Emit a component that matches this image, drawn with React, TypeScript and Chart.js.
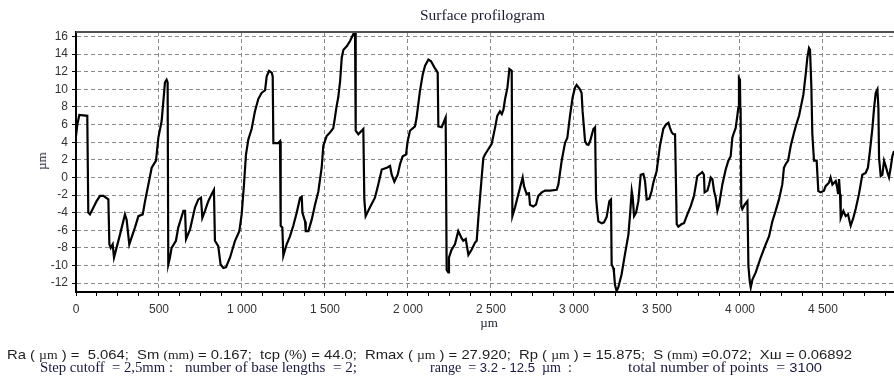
import React, { useEffect, useLayoutEffect, useRef } from 'react';
import { Chart, registerables } from 'chart.js';

Chart.register(...registerables);

// Profile points [position µm, height µm], one array per wave group
const profileA: [number, number][] = [
  [0, 4.7], [8, 6.0], [20, 7.1], [68, 7.0], [74, -4.0], [84, -4.2], [124, -2.7], [145, -2.1], [165, -2.1],
  [195, -2.5], [201, -7.6], [209, -8.0], [221, -7.6], [229, -9.1], [265, -6.5], [295, -4.2], [305, -4.8],
  [321, -7.6], [355, -5.7], [376, -4.4], [402, -4.2], [416, -2.7], [436, -0.8], [456, 1.1], [482, 1.9],
  [496, 4.5], [516, 6.4], [536, 10.8], [546, 11.1], [552, 10.8], [556, -9.9], [566, -9.1], [576, -8.0],
  [602, -7.2], [616, -5.7], [647, -3.8], [657, -3.8], [663, -7.0], [687, -5.9], [717, -3.4], [737, -2.5],
  [753, -2.3], [761, -4.6], [777, -3.8], [797, -2.7], [817, -1.9], [831, -1.4], [837, -7.2], [857, -7.8],
  [871, -9.9], [888, -10.3], [904, -10.2], [928, -9.1], [958, -7.2], [984, -6.1], [998, -4.2], [1012, -0.8],
  [1024, 2.6], [1038, 4.3], [1058, 5.5], [1078, 7.5], [1098, 8.9], [1118, 9.6], [1139, 9.9], [1149, 11.5],
  [1163, 12.1], [1179, 11.9], [1185, 11.5], [1189, 3.9], [1219, 3.9], [1229, 4.1],
];

const profileB: [number, number][] = [
  [1233, -5.5], [1243, -5.7], [1249, -8.9], [1269, -7.6], [1289, -6.7], [1309, -5.5], [1330, -4.0],
  [1350, -2.3], [1360, -2.2], [1364, -4.0], [1380, -5.0], [1384, -6.1], [1400, -6.1], [1420, -4.8],
  [1440, -3.1], [1460, -1.6], [1480, 1.1], [1490, 3.6], [1510, 4.7], [1530, 5.1], [1550, 5.6], [1560, 6.8],
  [1570, 8.1], [1580, 9.1], [1591, 10.9], [1601, 13.6], [1611, 14.5], [1631, 14.9], [1651, 15.5],
  [1671, 16.3], [1681, 16.6], [1685, 5.3], [1701, 4.9], [1731, 5.5], [1737, -2.5], [1745, -4.4],
  [1771, -3.4], [1801, -2.3], [1821, -0.8], [1842, 0.9], [1872, 1.1], [1892, 1.3], [1902, 0.3],
  [1918, -0.5], [1938, 0.3], [1952, 1.5], [1968, 2.4], [1988, 2.6], [1998, 4.1], [2012, 5.3], [2042, 5.8],
  [2052, 6.8], [2072, 9.8], [2089, 11.7], [2103, 12.7], [2123, 13.4], [2139, 13.2], [2159, 12.5],
  [2179, 11.9], [2183, 5.8], [2203, 5.7], [2227, 6.8], [2233, -10.5], [2243, -10.8], [2247, -9.1],
  [2263, -8.2], [2283, -7.6], [2303, -6.1], [2323, -6.9], [2333, -7.2], [2348, -7.0], [2364, -8.8],
  [2384, -8.2], [2404, -7.4], [2414, -7.2], [2424, -4.6], [2444, 0.0],
];

const profileC: [number, number][] = [
  [2454, 2.2], [2464, 2.6], [2484, 3.2], [2504, 3.8], [2524, 5.6], [2538, 7.0], [2554, 7.5], [2565, 7.2],
  [2575, 7.7], [2585, 8.9], [2599, 10.2], [2611, 12.3], [2625, 12.1], [2629, -4.4], [2645, -3.4],
  [2665, -1.9], [2691, 0.0], [2699, -1.0], [2715, -1.9], [2729, -1.8], [2735, -3.1], [2755, -3.3],
  [2771, -3.1], [2785, -2.1], [2806, -1.7], [2826, -1.5], [2856, -1.5], [2896, -1.4], [2906, -0.8],
  [2926, 1.9], [2946, 3.9], [2960, 4.5], [2976, 7.0], [2992, 9.1], [3006, 10.2], [3016, 10.5], [3036, 10.0],
  [3046, 9.6], [3052, 7.5], [3067, 4.1], [3077, 3.75], [3087, 3.7], [3097, 4.1], [3117, 5.5], [3127, 5.7],
  [3133, -2.3], [3141, -4.0], [3147, -5.0], [3167, -5.2], [3181, -5.1], [3197, -4.5], [3213, -2.7],
  [3223, -2.5], [3227, -9.9], [3237, -10.3], [3241, -10.8], [3247, -12.2], [3257, -12.9], [3267, -12.5],
  [3287, -11.0], [3307, -8.75], [3328, -6.5], [3338, -4.2], [3348, -1.55], [3354, -2.3], [3362, -4.4],
  [3374, -4.0], [3388, -2.7], [3402, 0.3], [3418, 0.4], [3428, -0.4], [3438, -2.5], [3454, -2.4],
  [3468, -1.55], [3478, -0.6], [3498, 0.7], [3518, 3.6], [3538, 5.5], [3554, 6.0], [3569, 6.2],
  [3579, 5.6], [3589, 5.1], [3599, 4.9], [3609, 4.9], [3619, -5.3], [3629, -5.6], [3649, -5.3],
];

const profileD: [number, number][] = [
  [3663, -5.2], [3683, -4.2], [3703, -3.3], [3723, -2.1], [3743, 0.15], [3753, 0.3], [3773, 0.6],
  [3783, 0.3], [3787, -1.7], [3804, -1.5], [3814, -0.8], [3824, 0.0], [3834, -0.2], [3844, -1.55],
  [3854, -2.3], [3864, -3.8], [3874, -3.1], [3894, -0.8], [3914, 0.9], [3930, 1.9], [3944, 2.4],
  [3954, 4.5], [3964, 5.1], [3974, 5.6], [3984, 7.0], [3990, 7.9], [3994, 11.3], [4000, 11.1], [4002, 7.9],
  [4004, 7.7], [4008, -3.3], [4014, -3.6], [4028, -3.1], [4045, -2.7], [4051, -10.1], [4059, -11.8],
  [4065, -12.5], [4075, -11.6], [4095, -10.8], [4125, -9.1], [4155, -7.6], [4175, -6.7], [4195, -5.0],
  [4215, -3.8], [4235, -2.5], [4255, -0.8], [4265, 1.1], [4275, 1.5], [4290, 1.9], [4306, 3.6],
  [4326, 5.1], [4336, 5.8], [4356, 7.0], [4370, 8.3], [4382, 9.4], [4396, 11.7], [4406, 13.6],
  [4416, 14.7], [4422, 14.5], [4430, 10.4], [4436, 4.9], [4446, 1.9], [4462, 1.9], [4472, -1.55],
  [4486, -1.7], [4506, -1.5], [4516, -1.0], [4536, -0.6], [4546, 0.0], [4557, -0.8], [4567, -0.6],
  [4577, -0.4], [4587, -1.3], [4591, -1.9], [4597, -0.2], [4603, -1.9], [4607, -4.6], [4623, -3.8],
  [4637, -4.4], [4651, -4.2], [4667, -5.5], [4683, -4.6], [4697, -3.6], [4717, -1.9], [4737, 0.3],
  [4757, 0.5], [4771, 1.1], [4783, 3.0], [4798, 5.6], [4808, 7.9], [4818, 9.6], [4828, 10.0],
  [4834, 7.9], [4838, 2.2], [4848, 0.15], [4858, 0.3], [4868, 1.9], [4878, 1.3], [4888, 0.6],
  [4898, 0.0], [4908, 1.1], [4918, 2.4], [4928, 3.0],
];

const X_MIN = 0;
const X_MAX = 4928;
const Y_MIN = -13.02;
const Y_MAX = 16.52;
const X_MAJOR_STEP = 500;
const X_MINOR_STEP = 125;
const Y_STEP = 2;

const TITLE = 'Surface profilogram';
const AXIS_UNIT = 'µm';

const SANS = '"Liberation Sans", Arial, sans-serif';
const SERIF = '"Liberation Serif", "Times New Roman", serif';

function formatThousands(v: number): string {
  return String(v).replace(/\B(?=(\d{3})+(?!\d))/g, ' ');
}

type StretchProps = {
  left: number;
  right: number;
  top: number;
  font: string;
  color: string;
  lineHeight?: number;
  children: React.ReactNode;
};

function Stretch({ left, right, top, font, color, lineHeight = 15, children }: StretchProps) {
  const ref = useRef<HTMLDivElement>(null);
  useLayoutEffect(() => {
    const el = ref.current;
    if (!el) return;
    el.style.transform = 'none';
    const w = el.getBoundingClientRect().width;
    if (w > 0) el.style.transform = `scaleX(${(right - left) / w})`;
  });
  return (
    <div
      ref={ref}
      style={{
        position: 'absolute',
        left,
        top,
        font,
        color,
        lineHeight: `${lineHeight}px`,
        whiteSpace: 'pre',
        transformOrigin: '0 0',
      }}
    >
      {children}
    </div>
  );
}

const mu = (t: string) => <span style={{ fontFamily: SERIF, fontSize: '12px' }}>{t}</span>;

export default function App() {
  const canvasRef = useRef<HTMLCanvasElement>(null);

  useEffect(() => {
    const canvas = canvasRef.current;
    if (!canvas) return;
    const points = [...profileA, ...profileB, ...profileC, ...profileD].map(([x, y]) => ({ x, y }));

    const frameTop = {
      id: 'frameTop',
      afterDraw(chart: any) {
        const { ctx, chartArea } = chart;
        ctx.save();
        ctx.strokeStyle = '#505050';
        ctx.lineWidth = 2;
        ctx.beginPath();
        ctx.moveTo(chartArea.left, chartArea.top);
        ctx.lineTo(chartArea.right, chartArea.top);
        ctx.stroke();
        ctx.restore();
      },
    };

    const chart = new Chart(canvas, {
      type: 'line',
      data: {
        datasets: [
          {
            data: points,
            borderColor: '#000000',
            borderWidth: 2.2,
            pointRadius: 0,
            tension: 0,
            fill: false,
          },
        ],
      },
      options: {
        animation: false,
        responsive: false,
        maintainAspectRatio: false,
        layout: { padding: { top: 32, right: 0, bottom: 63, left: 0 } },
        plugins: {
          legend: { display: false },
          tooltip: { enabled: false },
          title: { display: false },
        },
        scales: {
          x: {
            type: 'linear',
            min: X_MIN,
            max: X_MAX,
            afterFit: (s: any) => {
              s.height = 30;
            },
            ticks: {
              stepSize: X_MINOR_STEP,
              autoSkip: false,
              maxRotation: 0,
              minRotation: 0,
              includeBounds: false,
              padding: 6,
              color: '#333333',
              font: { family: SANS, size: 12 },
              callback: (v: any) => (Number(v) % X_MAJOR_STEP === 0 ? formatThousands(Number(v)) : ''),
            },
            grid: {
              color: (c: any) =>
                c.tick && c.tick.value % X_MAJOR_STEP === 0 && c.tick.value !== X_MIN ? '#8a8a8a' : 'rgba(0,0,0,0)',
              lineWidth: 1,
              tickLength: 4,
              tickColor: '#000000',
              tickWidth: 1,
            },
            border: { display: true, color: '#000000', width: 2, dash: [4, 3] },
          },
          y: {
            type: 'linear',
            min: Y_MIN,
            max: Y_MAX,
            afterFit: (s: any) => {
              s.width = 76;
            },
            ticks: {
              stepSize: Y_STEP,
              includeBounds: false,
              padding: 4,
              color: '#333333',
              font: { family: SANS, size: 12 },
            },
            grid: {
              color: '#8a8a8a',
              lineWidth: 1,
              tickLength: 4,
              tickColor: '#000000',
              tickWidth: 1,
            },
            border: { display: true, color: '#000000', width: 2, dash: [4, 3] },
          },
        },
      },
      plugins: [frameTop],
    } as any);

    return () => chart.destroy();
  }, []);

  return (
    <div style={{ position: 'fixed', left: 0, top: 0, width: 894, height: 385, background: '#ffffff', overflow: 'hidden' }}>
      <canvas ref={canvasRef} width={894} height={385} style={{ display: 'block', width: 894, height: 385 }} />

      <Stretch left={420} right={545} top={6} font={`15px ${SERIF}`} color="#1a1a33" lineHeight={18}>
        {TITLE}
      </Stretch>

      <div
        style={{
          position: 'absolute',
          left: 42,
          top: 161,
          font: `13px ${SERIF}`,
          color: '#1a1a33',
          lineHeight: '14px',
          whiteSpace: 'pre',
          transform: 'translate(-50%, -50%) rotate(-90deg)',
        }}
      >
        {AXIS_UNIT}
      </div>

      <div
        style={{
          position: 'absolute',
          left: 489,
          top: 315,
          font: `13px ${SERIF}`,
          color: '#1a1a33',
          lineHeight: '15px',
          whiteSpace: 'pre',
          transform: 'translateX(-50%)',
        }}
      >
        {AXIS_UNIT}
      </div>

      <Stretch left={7} right={852} top={347} font={`13px ${SANS}`} color="#1e1e1e">
        <>
          Ra ( {mu('µm')} ) =  5.064;  Sm {mu('(mm)')} = 0.167;  tcp (%) = 44.0;  Rmax ( {mu('µm')} ) = 27.920;  Rp ( {mu('µm')} ) = 15.875;  S {mu('(mm)')} =0.072;  Xш = 0.06892
        </>
      </Stretch>

      <Stretch left={40} right={173} top={360} font={`14px ${SERIF}`} color="#1a1a40">
        {'Step cutoff  = 2,5mm :'}
      </Stretch>
      <Stretch left={185} right={357} top={360} font={`14px ${SERIF}`} color="#1a1a40">
        {'number of base lengths  = 2;'}
      </Stretch>
      <Stretch left={430} right={572} top={360} font={`14px ${SERIF}`} color="#1a1a40">
        <>
          range  = <span style={{ fontFamily: SANS, fontSize: '13px' }}>3.2 - 12.5</span>  µm  :
        </>
      </Stretch>
      <Stretch left={628} right={822} top={360} font={`14px ${SERIF}`} color="#1a1a40">
        <>
          total number of points  = <span style={{ fontFamily: SANS, fontSize: '13px' }}>3100</span>
        </>
      </Stretch>
    </div>
  );
}
